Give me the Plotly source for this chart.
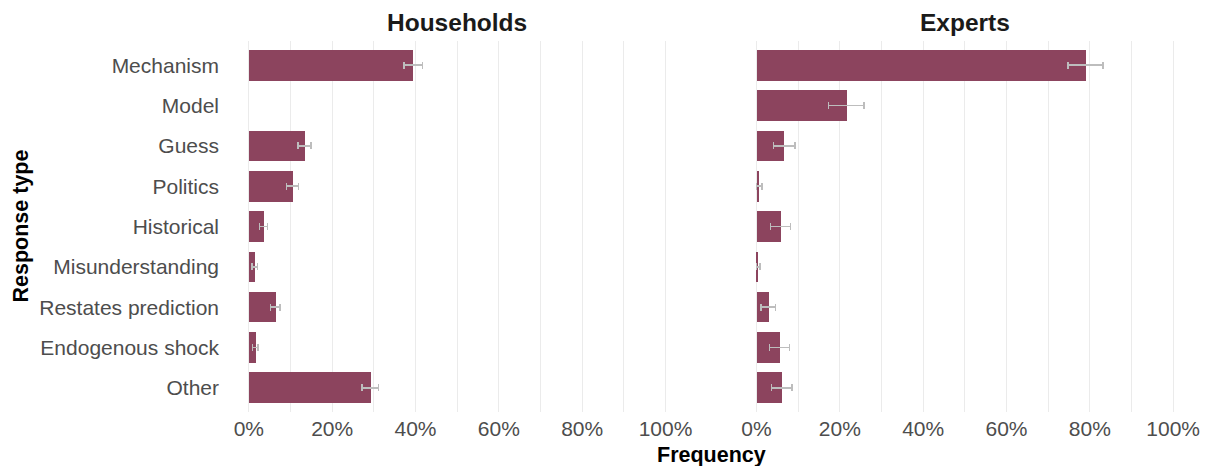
import plotly.graph_objects as go

categories = ["Mechanism", "Model", "Guess", "Politics", "Historical",
              "Misunderstanding", "Restates prediction", "Endogenous shock", "Other"]

households = [0.395, None, 0.134, 0.105, 0.036, 0.014, 0.065, 0.017, 0.293]
households_lo = [0.373, None, 0.118, 0.090, 0.026, 0.008, 0.052, 0.009, 0.271]
households_hi = [0.417, None, 0.149, 0.119, 0.045, 0.021, 0.075, 0.022, 0.311]

experts = [0.790, 0.217, 0.066, 0.0055, 0.058, 0.003, 0.030, 0.056, 0.061]
experts_lo = [0.748, 0.173, 0.041, 0.000, 0.034, 0.000, 0.011, 0.031, 0.036]
experts_hi = [0.832, 0.258, 0.092, 0.013, 0.082, 0.008, 0.046, 0.079, 0.085]

panel_titles = ["Households", "Experts"]
x_ticks = [0, 0.2, 0.4, 0.6, 0.8, 1.0]

BAR = "#8C445E"
ERR = "#BDBDBD"
GRID = "#EBEBEB"
FONT = "Liberation Sans, Arial, sans-serif"

# the page body has an 8px margin, so the figure is 8px smaller than the window
W, H = 1202, 458
L, T, PW, PH = 220, 33, 966, 371.5


def err_plus(v, hi):
    return [None if a is None else h - a for a, h in zip(v, hi)]


def err_minus(v, lo):
    return [None if a is None else a - l for a, l in zip(v, lo)]


fig = go.Figure()
for i, (vals, lo, hi) in enumerate([(households, households_lo, households_hi),
                                    (experts, experts_lo, experts_hi)]):
    sfx = "" if i == 0 else "2"
    fig.add_trace(go.Bar(
        x=vals, y=categories, orientation="h",
        marker=dict(color=BAR, line=dict(width=0)),
        width=0.76,
        error_x=dict(type="data", symmetric=False,
                     array=err_plus(vals, hi), arrayminus=err_minus(vals, lo),
                     color=ERR, thickness=1.6, width=3.5),
        xaxis="x" + sfx, yaxis="y" + sfx, showlegend=False,
        hovertemplate="%{y}: %{x:.1%}<extra></extra>",
    ))

xcommon = dict(range=[-0.05, 1.05], tickvals=x_ticks, tickformat=".0%",
               showgrid=True, gridcolor=GRID, gridwidth=1.2, zeroline=False,
               showline=False, ticks="",
               minor=dict(dtick=0.1, tick0=0, showgrid=True, gridcolor=GRID, gridwidth=1.2),
               tickfont=dict(family=FONT, size=21, color="#4D4D4D"),
               ticklabelstandoff=2)
ycommon = dict(categoryorder="array", categoryarray=categories,
               range=[8.6, -0.6], showgrid=False, zeroline=False, showline=False,
               ticks="", tickfont=dict(family=FONT, size=21, color="#4D4D4D"))

fig.update_layout(
    width=W, height=H,
    margin=dict(l=L, r=W - L - PW, t=T, b=H - T - PH, autoexpand=False),
    paper_bgcolor="white", plot_bgcolor="white",
    font=dict(family=FONT),
    bargap=0,
    xaxis=dict(domain=[0, 0.4745], anchor="y", automargin=False, **xcommon),
    xaxis2=dict(domain=[0.5255, 1.0], anchor="y2", automargin=False, **xcommon),
    yaxis=dict(anchor="x", ticklabelstandoff=8, automargin=False, **ycommon),
    yaxis2=dict(anchor="x2", showticklabels=False, matches="y", automargin=False, **ycommon),
)

# panel titles
for title, dom in zip(panel_titles, [[0, 0.4745], [0.5255, 1.0]]):
    fig.add_annotation(text="<b>%s</b>" % title, x=(dom[0] + dom[1]) / 2,
                       y=1 + (T - 14) / PH,
                       xref="paper", yref="paper", xanchor="center", yanchor="middle",
                       showarrow=False, font=dict(family=FONT, size=24.5, color="#1A1A1A"))

fig.add_annotation(text="<b>Frequency</b>", x=0.5, y=-0.117, xref="paper", yref="paper",
                   xanchor="center", yanchor="middle", showarrow=False,
                   font=dict(family=FONT, size=21.5, color="#000000"))
fig.add_annotation(text="<b>Response type</b>", x=(12 - L) / PW, y=0.5,
                   xref="paper", yref="paper", xanchor="center", yanchor="middle",
                   textangle=-90, showarrow=False, borderpad=0,
                   font=dict(family=FONT, size=21.5, color="#000000"))

fig.write_html("out.html")
